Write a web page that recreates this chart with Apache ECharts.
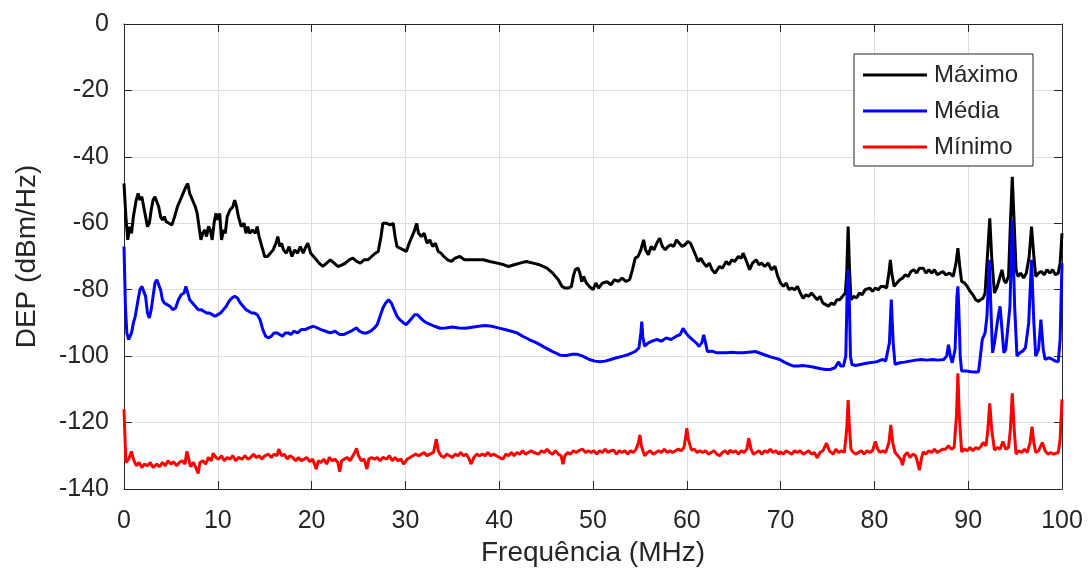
<!DOCTYPE html>
<html>
<head>
<meta charset="utf-8">
<script src="https://cdn.jsdelivr.net/npm/echarts@6/dist/echarts.min.js"></script>
<style>
html,body{margin:0;padding:0;background:#fff;}
#chart{width:1088px;height:582px;}
</style>
</head>
<body>
<div id="chart"></div>
<script>
// Series names
const seriesNames = ['Máximo', 'Média', 'Mínimo'];
// Axis ticks
const xTicks = [0, 10, 20, 30, 40, 50, 60, 70, 80, 90, 100];
const yTicks = [0, -20, -40, -60, -80, -100, -120, -140];

// Máximo: [frequency MHz, DEP dBm/Hz]
const maximoData = [
[0,-48],[0.2,-58],[0.4,-65],[0.6,-61],[0.8,-63],[1.0,-58],[1.3,-53],[1.5,-51],[1.7,-53],[1.9,-52],[2.1,-55],[2.3,-58],[2.5,-61],[2.7,-60],[2.9,-56],[3.1,-53],[3.3,-52],[3.5,-52.5],[3.7,-55],[3.9,-58],[4.1,-59],[4.3,-58],[4.5,-59.5],[4.8,-60],[5.1,-60.5],[5.4,-58],[5.7,-55],[6.0,-53],[6.3,-51],[6.6,-49],[6.8,-48],[7.0,-51],[7.3,-53],[7.6,-55],[7.8,-57],[8.0,-61],[8.2,-65],[8.4,-63],[8.6,-62],[8.8,-64],[9.0,-61],[9.2,-62],[9.4,-65],[9.6,-60],[9.8,-57],[10.0,-59],[10.2,-57],[10.4,-65],[10.6,-62],[10.8,-63],[11.0,-58],[11.3,-56],[11.6,-55],[11.8,-53],[12.0,-55],[12.2,-58],[12.5,-61],[12.8,-60],[13.0,-63],[13.2,-61],[13.4,-63],[13.7,-62],[14.0,-63],[14.2,-61],[14.4,-64],[14.7,-67],[15.0,-70],[15.3,-70],[15.6,-69],[15.9,-68],[16.2,-66],[16.4,-64],[16.6,-67],[16.8,-66],[17.0,-68],[17.3,-69],[17.6,-67],[17.9,-70],[18.2,-68],[18.5,-69],[18.8,-67],[19.1,-69],[19.4,-67],[19.6,-66],[19.9,-69],[20.2,-70],[20.5,-71],[20.8,-72],[21.2,-73],[21.6,-72],[22.0,-71],[22.4,-72],[22.8,-73],[23.2,-72.6],[23.6,-72],[24.0,-71],[24.4,-70.5],[24.8,-71.5],[25.2,-72],[25.6,-71],[26.0,-71],[26.4,-70],[26.8,-69],[27.1,-68.5],[27.4,-64],[27.6,-60],[28.0,-60],[28.4,-60.5],[28.7,-60],[28.9,-64],[29.1,-67],[29.4,-67.5],[29.8,-68],[30.1,-68.5],[30.4,-66],[30.7,-64],[31.0,-62],[31.2,-60],[31.4,-63],[31.7,-64],[32.0,-63],[32.3,-66],[32.6,-65],[32.9,-67],[33.2,-66],[33.5,-68.5],[33.8,-69],[34.1,-70],[34.5,-71],[34.9,-71.5],[35.3,-70.5],[35.8,-70],[36.3,-71],[36.9,-71],[37.5,-71],[38.3,-71],[39.0,-71.5],[39.8,-72],[40.5,-72.5],[41.0,-73],[41.6,-72.5],[42.2,-72],[42.9,-71.5],[43.6,-72],[44.3,-72.5],[45.1,-73.5],[45.7,-75],[46.3,-77],[46.7,-79],[47.0,-79.5],[47.4,-79.5],[47.7,-79],[47.9,-76],[48.1,-74],[48.4,-73.5],[48.6,-75],[48.8,-77.6],[49.0,-76],[49.3,-78],[49.6,-79],[50.0,-80],[50.3,-78],[50.6,-79.5],[51.0,-78],[51.5,-77.6],[51.9,-78.5],[52.3,-77],[52.7,-77.5],[53.1,-76.5],[53.5,-77.5],[53.9,-77],[54.2,-74],[54.5,-70.5],[54.8,-70],[55.1,-68],[55.4,-65],[55.6,-68],[55.9,-69.5],[56.2,-67],[56.5,-68],[56.8,-66],[57.1,-64.5],[57.4,-67],[57.7,-68],[58.0,-67],[58.3,-66.5],[58.6,-67],[58.9,-65],[59.2,-66],[59.5,-67],[59.8,-66.5],[60.1,-65.5],[60.4,-66],[60.7,-68],[61.0,-70],[61.2,-71.5],[61.5,-70.5],[61.8,-72],[62.1,-73],[62.4,-72],[62.7,-74],[63.0,-75],[63.2,-75.5],[63.5,-73],[63.8,-73.5],[64.2,-71.5],[64.5,-72.5],[64.8,-71],[65.1,-71.5],[65.5,-70],[65.8,-70.5],[66.0,-69],[66.3,-71],[66.7,-74],[67.0,-72],[67.4,-71],[67.7,-72.5],[68.0,-72],[68.3,-73],[68.7,-72],[69.0,-74],[69.4,-73],[69.7,-76],[70.0,-78],[70.3,-79],[70.6,-78],[70.9,-80],[71.2,-79.5],[71.5,-80],[71.8,-79],[72.1,-81],[72.4,-82.6],[72.7,-81.5],[73.0,-82],[73.3,-81],[73.6,-82],[73.9,-83],[74.2,-82],[74.5,-84],[74.8,-84.5],[75.1,-85],[75.4,-84],[75.7,-84.5],[76.0,-83],[76.3,-83],[76.6,-82],[76.9,-81],[77.05,-75],[77.2,-61],[77.35,-74],[77.5,-83],[77.8,-82],[78.1,-82.5],[78.4,-81],[78.7,-81.5],[79.0,-80],[79.2,-80.6],[79.5,-79.5],[79.8,-80.5],[80.1,-79.5],[80.4,-80],[80.7,-79],[81.0,-79],[81.3,-79.5],[81.55,-75],[81.7,-71],[81.85,-75],[82.1,-79],[82.4,-78],[82.7,-77],[83.0,-76.5],[83.3,-75.5],[83.6,-76],[83.9,-74.5],[84.2,-74],[84.5,-75],[84.8,-73.5],[85.2,-73.5],[85.5,-75],[85.8,-74],[86.1,-75],[86.4,-74],[86.7,-75.5],[87.0,-75],[87.3,-74.5],[87.6,-75.5],[88.0,-75],[88.4,-76],[88.7,-72],[88.9,-67.5],[89.1,-73],[89.3,-77.5],[89.6,-78],[89.9,-79],[90.2,-80.5],[90.5,-81.5],[90.8,-83],[91.1,-83.5],[91.3,-84],[91.6,-82.5],[91.8,-81],[92.0,-72],[92.3,-58.5],[92.5,-70],[92.8,-81],[93.1,-79],[93.4,-76],[93.6,-74],[93.8,-77],[94.0,-78],[94.3,-76],[94.5,-60],[94.7,-46],[94.9,-60],[95.1,-74],[95.3,-76],[95.6,-75],[95.9,-76.5],[96.2,-75],[96.5,-70],[96.75,-61],[97.0,-70],[97.2,-76],[97.5,-75],[97.8,-74.5],[98.1,-75.5],[98.4,-74],[98.7,-75],[99.0,-74],[99.3,-75.5],[99.6,-75],[99.8,-72],[100,-63]
];

// Média
const mediaData = [
[0,-67],[0.15,-85],[0.3,-93],[0.5,-95],[0.8,-93],[1.0,-90],[1.2,-88],[1.5,-83],[1.7,-80],[1.9,-79],[2.1,-78.5],[2.3,-82],[2.5,-87],[2.7,-88.5],[2.9,-86],[3.1,-82],[3.3,-78],[3.5,-77],[3.7,-77.5],[3.9,-80],[4.1,-83],[4.3,-84],[4.6,-84.5],[4.9,-85],[5.2,-86],[5.5,-85.5],[5.8,-83],[6.1,-81.5],[6.4,-81],[6.6,-79],[6.8,-79.5],[7.0,-83],[7.3,-84],[7.6,-85],[7.9,-86],[8.2,-86],[8.5,-86.5],[8.8,-87],[9.1,-87],[9.4,-87.5],[9.7,-88],[10.0,-87.5],[10.3,-87],[10.6,-86],[10.9,-85],[11.2,-83.5],[11.5,-82.5],[11.8,-82],[12.1,-82.5],[12.4,-84],[12.7,-85],[13.0,-86],[13.3,-86.5],[13.6,-87],[13.9,-87],[14.2,-87.5],[14.5,-89],[14.8,-92],[15.1,-94],[15.4,-94.5],[15.7,-94],[16.0,-93],[16.3,-93],[16.6,-93.5],[16.9,-94],[17.2,-93],[17.5,-93],[17.8,-93.5],[18.1,-92.5],[18.5,-93],[18.9,-92],[19.3,-92],[19.7,-91.5],[20.2,-91],[20.6,-91.5],[21.0,-92],[21.5,-92.5],[22.0,-93],[22.5,-92.5],[23.0,-93.5],[23.4,-93.5],[23.8,-93],[24.2,-92.5],[24.5,-92],[24.8,-91.5],[25.1,-92.5],[25.5,-93],[25.9,-93],[26.3,-92.5],[26.7,-91.5],[27.0,-90.5],[27.3,-88],[27.6,-85.5],[27.9,-84],[28.2,-83],[28.5,-84],[28.8,-86],[29.1,-88],[29.4,-89],[29.8,-90],[30.1,-90.5],[30.4,-89.5],[30.7,-88.5],[31.0,-87.5],[31.3,-87.5],[31.6,-88.5],[32.0,-89.5],[32.3,-90],[32.7,-90.5],[33.1,-91],[33.7,-91.6],[34.3,-91.5],[35.0,-91.2],[35.7,-91.5],[36.4,-91.6],[37.1,-91.3],[37.8,-91],[38.5,-90.8],[39.2,-91],[39.9,-91.5],[40.6,-92],[41.3,-92.5],[41.9,-93],[42.5,-94],[43.2,-95],[44.0,-96],[44.8,-97.3],[45.6,-98.5],[46.5,-99.7],[47.2,-99.8],[47.8,-99.4],[48.3,-99.4],[48.9,-100],[49.6,-101],[50.2,-101.5],[50.75,-101.7],[51.3,-101.5],[51.9,-101],[52.5,-100.5],[53.2,-100],[53.8,-99.5],[54.5,-98.6],[54.9,-97.5],[55.1,-93],[55.2,-89.6],[55.3,-94],[55.5,-97],[55.9,-96],[56.3,-95.5],[56.8,-95],[57.3,-95.5],[57.8,-94.5],[58.3,-95],[58.9,-94],[59.3,-93.5],[59.6,-91.6],[59.9,-93],[60.2,-94],[60.6,-95],[61.0,-96],[61.3,-97],[61.6,-96],[61.8,-93.6],[62.0,-96],[62.2,-98.6],[62.7,-98.5],[63.2,-99],[63.7,-99],[64.2,-99],[64.8,-98.8],[65.4,-99],[66.0,-99],[66.6,-98.8],[67.3,-98.6],[67.9,-99.2],[68.5,-99.8],[69.0,-100.3],[69.4,-100.6],[69.9,-101],[70.4,-101.8],[70.9,-102.5],[71.4,-103],[71.9,-103],[72.4,-102.8],[72.8,-103],[73.3,-103.2],[73.8,-103.5],[74.3,-103.8],[74.8,-104],[75.3,-104],[75.8,-103.5],[76.0,-102.5],[76.2,-101.7],[76.4,-103],[76.7,-103],[76.95,-100],[77.1,-80],[77.2,-74],[77.3,-80],[77.45,-100],[77.6,-102.5],[78.0,-102.8],[78.5,-102.5],[79.0,-102.2],[79.5,-102],[80.0,-101.8],[80.25,-101.7],[80.6,-101.3],[80.9,-101],[81.2,-101.5],[81.6,-96],[81.8,-83],[82.0,-96],[82.2,-102.5],[82.7,-102],[83.2,-101.8],[83.8,-101.5],[84.4,-101.2],[85.0,-101],[85.6,-101.2],[86.2,-101],[86.8,-101.2],[87.4,-101],[87.7,-100],[87.9,-96.6],[88.1,-100],[88.3,-102],[88.6,-98],[88.8,-82],[88.9,-79],[89.0,-86],[89.15,-100],[89.3,-104.5],[89.8,-104.5],[90.3,-104.7],[90.8,-104.8],[91.1,-104.7],[91.3,-100],[91.5,-95],[91.8,-93],[92.0,-88],[92.25,-71],[92.45,-88],[92.6,-99],[92.8,-96],[93.0,-92],[93.2,-88],[93.4,-85],[93.6,-92],[93.8,-99],[94.0,-98],[94.2,-97.5],[94.45,-85],[94.7,-59],[94.95,-85],[95.2,-100],[95.5,-99],[95.8,-98.5],[96.1,-97.5],[96.45,-90],[96.75,-71],[97.0,-90],[97.2,-100],[97.5,-98],[97.75,-89],[98.0,-98],[98.2,-101],[98.6,-100.5],[99.0,-101],[99.3,-101.5],[99.6,-101.7],[99.8,-95],[100,-72]
];

// Mínimo
const minimoData = [
[0,-116],[0.1,-124],[0.2,-132],[0.5,-131],[0.8,-128.7],[1.0,-131],[1.3,-133],[1.6,-132],[1.9,-133.5],[2.2,-132.5],[2.5,-133],[2.8,-132],[3.1,-133.5],[3.5,-132.5],[3.8,-133.3],[4.1,-132],[4.4,-133],[4.7,-131.5],[5.0,-132.5],[5.3,-131.8],[5.6,-133],[5.9,-132],[6.2,-131.5],[6.5,-132.5],[6.7,-128.7],[6.9,-131],[7.1,-133.3],[7.4,-132],[7.7,-133.8],[7.9,-135.3],[8.1,-132],[8.4,-131.5],[8.7,-132.5],[9.0,-130.5],[9.3,-131.5],[9.5,-129.3],[9.8,-130.5],[10.1,-131],[10.4,-130],[10.7,-131.5],[11.0,-130.5],[11.3,-131],[11.6,-130],[11.9,-131.5],[12.2,-130.5],[12.6,-131],[12.9,-130],[13.2,-131],[13.5,-130.5],[13.8,-129.5],[14.1,-130.5],[14.4,-130],[14.7,-131],[15.0,-130],[15.4,-129.5],[15.7,-130.5],[16.0,-129.5],[16.3,-130],[16.5,-128],[16.8,-130],[17.1,-129.5],[17.4,-131],[17.7,-130],[18.0,-130.5],[18.3,-131.5],[18.6,-130.5],[18.9,-131.5],[19.2,-131],[19.5,-130.5],[19.8,-131.8],[20.1,-131],[20.3,-132.5],[20.5,-134],[20.7,-131.5],[21.0,-132],[21.3,-131],[21.6,-132.5],[21.9,-130.5],[22.2,-131.5],[22.5,-131],[22.8,-132],[23.0,-134.8],[23.2,-131.5],[23.5,-131],[23.8,-130.5],[24.1,-131.5],[24.4,-130],[24.6,-129],[24.8,-127.8],[25.0,-130],[25.3,-131.5],[25.6,-131],[25.9,-134],[26.1,-131],[26.4,-130.5],[26.7,-131],[27.0,-130.5],[27.3,-131.5],[27.6,-130.5],[28.0,-131],[28.3,-130],[28.6,-131.5],[28.9,-130.5],[29.2,-131.5],[29.5,-131],[29.8,-132.5],[30.0,-133],[30.2,-131],[30.5,-130.5],[30.8,-130],[31.1,-129.5],[31.4,-130],[31.7,-129.5],[32.0,-129],[32.3,-130],[32.6,-129.5],[33.0,-129],[33.3,-125],[33.5,-128.5],[33.8,-130],[34.1,-130.5],[34.4,-129.5],[34.7,-130],[35.0,-130.5],[35.3,-129.5],[35.6,-130],[35.9,-129],[36.2,-130],[36.5,-129.5],[36.8,-131],[37.0,-132.5],[37.3,-130.5],[37.6,-129.5],[37.9,-130],[38.2,-129.5],[38.5,-130],[38.8,-129],[39.1,-130],[39.4,-129.5],[39.7,-130],[40.0,-130.5],[40.4,-131],[40.7,-129.5],[41.0,-130],[41.3,-129],[41.6,-130],[41.9,-129],[42.2,-129.5],[42.5,-128.5],[42.8,-129.5],[43.1,-129],[43.4,-128.5],[43.7,-129],[43.9,-128.5],[44.2,-129.5],[44.5,-128.5],[44.8,-129],[45.1,-128],[45.4,-129],[45.7,-129.5],[46.0,-128.5],[46.3,-129.5],[46.6,-130],[46.8,-132.5],[47.0,-130],[47.3,-129],[47.6,-129.5],[47.9,-128.5],[48.2,-129],[48.6,-128.3],[48.9,-128],[49.2,-129],[49.5,-128.5],[49.8,-129],[50.1,-128.5],[50.4,-129.5],[50.7,-128.5],[51.0,-129],[51.3,-128],[51.6,-129],[51.9,-128.5],[52.2,-128.3],[52.5,-129.5],[52.8,-128.5],[53.1,-129],[53.4,-128.5],[53.7,-129.5],[54.0,-128.5],[54.3,-129],[54.6,-128],[54.85,-126],[55.0,-123.7],[55.15,-127],[55.5,-130],[55.8,-129],[56.1,-128.5],[56.4,-129.5],[56.7,-129],[57.0,-128.5],[57.3,-129],[57.6,-128],[57.9,-129],[58.2,-128.5],[58.5,-129],[58.8,-128.5],[59.1,-128],[59.4,-128.5],[59.7,-127.5],[59.9,-124],[60.0,-121.7],[60.15,-125],[60.5,-128.3],[60.8,-128],[61.1,-129],[61.4,-128.5],[61.7,-129],[62.0,-128.5],[62.3,-129.5],[62.6,-129],[62.9,-128.5],[63.2,-129.5],[63.5,-130],[63.8,-129],[64.1,-128.5],[64.4,-129.5],[64.6,-128.3],[64.9,-129],[65.2,-128.5],[65.5,-129.5],[65.8,-128.5],[66.1,-129],[66.4,-128],[66.6,-124.7],[66.85,-128],[67.1,-129.5],[67.4,-129],[67.7,-128.5],[68.0,-129.5],[68.3,-128.5],[68.6,-129],[68.9,-128],[69.2,-129],[69.5,-128.5],[69.8,-129.5],[70.0,-128.8],[70.3,-129.5],[70.6,-128.5],[70.9,-129],[71.2,-129.5],[71.5,-128.5],[71.8,-129],[72.1,-128.5],[72.4,-129.5],[72.7,-129],[73.0,-128.5],[73.3,-129.5],[73.6,-129],[73.9,-130.6],[74.2,-129],[74.5,-128.5],[74.9,-126.2],[75.2,-128.5],[75.6,-129.5],[75.9,-128],[76.2,-129],[76.5,-128.5],[76.8,-129],[77.05,-122],[77.2,-113.2],[77.35,-122],[77.5,-128],[77.7,-128.8],[78.0,-129.5],[78.3,-129],[78.6,-128.5],[78.9,-129.5],[79.2,-128.5],[79.5,-129],[79.8,-128.5],[80.1,-125.7],[80.35,-128],[80.6,-129],[80.9,-128.5],[81.2,-129],[81.55,-126],[81.75,-120.7],[81.95,-126],[82.2,-129],[82.5,-130],[82.8,-131],[83.0,-132.8],[83.2,-130],[83.5,-129],[83.8,-130.5],[84.1,-129.5],[84.4,-130],[84.6,-132],[84.8,-134.3],[85.0,-131],[85.2,-128.8],[85.5,-129.5],[85.8,-128.5],[86.1,-129],[86.4,-128],[86.7,-129],[87.0,-128.5],[87.3,-128],[87.6,-128],[87.9,-127],[88.2,-128],[88.5,-127.5],[88.75,-118],[88.9,-105.2],[89.05,-118],[89.3,-128.8],[89.6,-128],[89.9,-128.5],[90.2,-127.5],[90.5,-128.5],[90.8,-127.5],[91.1,-128],[91.4,-127],[91.6,-126],[91.9,-127],[92.1,-122],[92.3,-114.2],[92.5,-122],[92.8,-128.3],[93.1,-127.5],[93.4,-128],[93.7,-125.7],[94.0,-128],[94.3,-127.5],[94.5,-122],[94.7,-111.2],[94.9,-122],[95.1,-129.5],[95.4,-128.5],[95.7,-129],[96.0,-128],[96.3,-129],[96.6,-126],[96.8,-121.2],[97.0,-126],[97.2,-129],[97.5,-128.5],[97.9,-126],[98.2,-128.5],[98.5,-129.5],[98.8,-129],[99.1,-129.5],[99.3,-130],[99.6,-129],[99.8,-125],[100,-113]
];

const FONT = 'Liberation Sans, Arial, sans-serif';
const TXT = '#262626';
const AX = '#262626';
const GRIDC = '#dedede';

const chart = echarts.init(document.getElementById('chart'), null, {renderer: 'canvas'});

const xMain = {
  type: 'value', min: xTicks[0], max: xTicks[xTicks.length - 1], interval: 10,
  position: 'bottom',
  name: 'Frequência (MHz)', nameLocation: 'middle', nameGap: 45,
  nameTextStyle: {fontFamily: FONT, fontSize: 28, color: TXT},
  axisLine: {show: true, onZero: false, lineStyle: {color: AX, width: 1}},
  axisTick: {show: true, inside: true, length: 8, lineStyle: {color: AX}},
  axisLabel: {fontFamily: FONT, fontSize: 25, color: TXT, margin: 20},
  splitLine: {show: true, lineStyle: {color: GRIDC, width: 1}}
};
const xTop = {
  type: 'value', min: xTicks[0], max: xTicks[xTicks.length - 1], interval: 10,
  position: 'top',
  axisLine: {show: true, onZero: false, lineStyle: {color: AX, width: 1}},
  axisTick: {show: true, inside: true, length: 8, lineStyle: {color: AX}},
  axisLabel: {show: false}, splitLine: {show: false}
};
const yMain = {
  type: 'value', min: yTicks[yTicks.length - 1], max: yTicks[0], interval: 20,
  position: 'left',
  name: 'DEP (dBm/Hz)', nameLocation: 'middle', nameGap: 83,
  nameTextStyle: {fontFamily: FONT, fontSize: 28, color: TXT},
  axisLine: {show: true, onZero: false, lineStyle: {color: AX, width: 1}},
  axisTick: {show: true, inside: true, length: 8, lineStyle: {color: AX}},
  axisLabel: {fontFamily: FONT, fontSize: 25, color: TXT, margin: 15},
  splitLine: {show: true, lineStyle: {color: GRIDC, width: 1}}
};
const yRight = {
  type: 'value', min: yTicks[yTicks.length - 1], max: yTicks[0], interval: 20,
  position: 'right',
  axisLine: {show: true, onZero: false, lineStyle: {color: AX, width: 1}},
  axisTick: {show: true, inside: true, length: 8, lineStyle: {color: AX}},
  axisLabel: {show: false}, splitLine: {show: false}
};

const colors = ['#000000', '#0000ff', '#ff0000'];
const datasets = [maximoData, mediaData, minimoData];

chart.setOption({
  animation: false,
  backgroundColor: '#ffffff',
  grid: {left: 124, right: 26, top: 24, bottom: 93, containLabel: false},
  xAxis: [xMain, xTop],
  yAxis: [yMain, yRight],
  legend: {
    orient: 'vertical', left: 854, top: 54,
    padding: [9, 15, 7, 9], itemGap: 12, itemWidth: 64, itemHeight: 3,
    backgroundColor: '#ffffff', borderColor: AX, borderWidth: 1,
    textStyle: {fontFamily: FONT, fontSize: 24, color: TXT, padding: [0, 0, 0, 2]},
    data: seriesNames.map((n, i) => ({name: n, icon: 'rect', itemStyle: {color: colors[i]}}))
  },
  series: seriesNames.map((n, i) => ({
    name: n, type: 'line', xAxisIndex: 0, yAxisIndex: 0,
    data: datasets[i], symbol: 'none', showSymbol: false,
    sampling: null, silent: true,
    lineStyle: {color: colors[i], width: 3},
    itemStyle: {color: colors[i]}
  }))
});
</script>
</body>
</html>
